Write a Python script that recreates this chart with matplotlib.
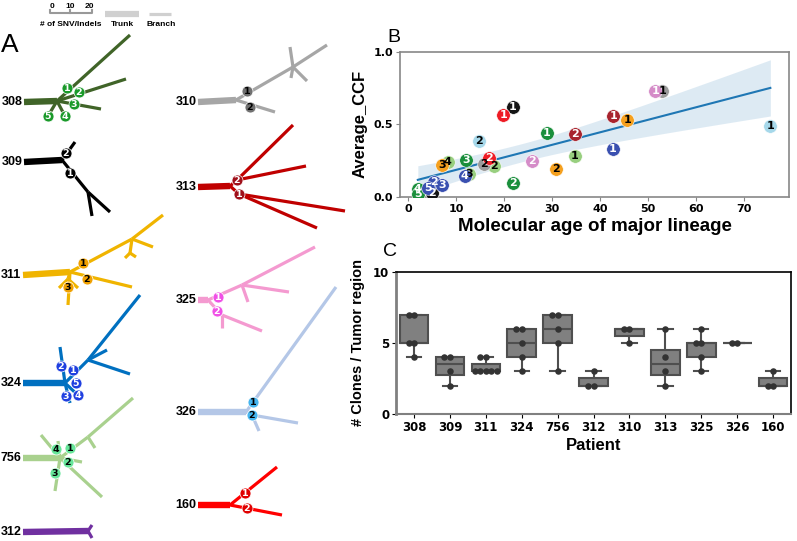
import numpy as np
import matplotlib.pyplot as plt

plt.rcParams['font.family'] = 'DejaVu Sans'
ARIAL = 'Liberation Sans'

# ---------------- panel A: clone trees (parent, dx, dy) in px from trunk start
nodes_308 = [(-1, 0, 0), (0, 33, -1), (1, 106, -67), (1, 102, -23), (1, 77, 7), (1, 41, 14), (1, 24, 14)]
clones_308 = [('1', 43, -14), ('2', 55, -10), ('3', 50, 2), ('4', 41, 14), ('5', 24, 14)]
nodes_309 = [(-1, 0, 0), (0, 38, -2), (1, 51, -20), (1, 64, 30), (3, 68, 54), (3, 86, 50)]
clones_309 = [('2', 42, -9), ('1', 46, 11)]
nodes_311 = [(-1, 0, 0), (0, 47, -3), (1, 109, -36), (2, 140, -60), (2, 130, -28), (2, 107, -22),
             (5, 102, -17), (5, 113, -18), (1, 109, 12), (1, 45, 30), (1, 45, 4), (10, 36, 13), (10, 55, 13)]
clones_311 = [('1', 60, -12), ('2', 64, 4), ('3', 45, 12)]
nodes_324 = [(-1, 0, 0), (0, 42, 0), (1, 65, -23), (2, 117, -88), (2, 84, -33), (2, 107, -9),
             (1, 37, -36), (1, 47, 20), (1, 59, 16)]
clones_324 = [('1', 50, -13), ('2', 38, -17), ('5', 53, 0), ('4', 55, 12), ('3', 43, 13)]
nodes_756 = [(-1, 0, 0), (0, 37, 0), (1, 65, -21), (2, 110, -60), (2, 72, -10), (1, 18, -23),
             (1, 35, -17), (1, 59, 4), (1, 79, 39), (1, 32, 33)]
clones_756 = [('1', 47, -10), ('4', 33, -9), ('2', 45, 4), ('3', 32, 15)]
nodes_312 = [(-1, 0, 0), (0, 65, -1), (1, 69, -7), (1, 69, 6)]
clones_312 = []
nodes_310 = [(-1, 0, 0), (0, 38, -2), (1, 95, -35), (2, 129, -57), (2, 92, -55), (2, 93, -24),
             (2, 109, -21), (1, 77, 10)]
clones_310 = [('1', 49, -11), ('2', 52, 5)]
nodes_313 = [(-1, 0, 0), (0, 32, -1), (1, 39, -7), (1, 41, 7), (2, 95, -62), (2, 108, -21),
             (3, 147, 24), (3, 119, 41)]
clones_313 = [('2', 39, -7), ('1', 41, 7)]
nodes_325 = [(-1, 0, 0), (0, 10, 0), (1, 44, -15), (2, 117, -53), (2, 91, -8), (2, 50, 2),
             (1, 24, 15), (6, 64, 31), (6, 24, 28)]
clones_325 = [('1', 20, -3), ('2', 19, 11)]
nodes_326 = [(-1, 0, 0), (0, 48, 0), (1, 138, -125), (1, 54, 3), (3, 100, 11), (3, 61, 19)]
clones_326 = [('1', 55, -10), ('2', 54, 3)]
nodes_160 = [(-1, 0, 0), (0, 32, 0), (1, 79, -38), (1, 84, 10)]
clones_160 = [('1', 47, -12), ('2', 49, 3)]

# ---------------- panel B data
b_patient = ['308'] * 5 + ['756'] * 4 + ['309'] * 2 + ['310'] * 2 + ['311'] * 3 + ['313'] * 2 + \
            ['324'] * 5 + ['325'] * 2 + ['326'] * 2 + ['160'] * 2
b_clone = ['1', '2', '3', '4', '5', '1', '2', '3', '4', '1', '2', '1', '2', '1', '2', '3', '1', '2',
           '1', '2', '3', '4', '5', '1', '2', '1', '2', '1', '2']
b_age = [28.9, 21.8, 12.0, 2.0, 2.0, 34.8, 18.0, 12.7, 8.2, 21.8, 5.0, 53.0, 15.8, 45.7, 30.8, 7.0,
         42.8, 34.8, 42.7, 5.3, 7.0, 11.8, 4.2, 51.6, 25.8, 75.6, 14.8, 19.8, 16.9]
b_ccf = [0.44, 0.097, 0.253, 0.053, 0.018, 0.28, 0.214, 0.161, 0.241, 0.62, 0.03, 0.73, 0.225,
         0.53, 0.195, 0.218, 0.56, 0.437, 0.333, 0.10, 0.085, 0.145, 0.062, 0.73, 0.248, 0.49,
         0.384, 0.563, 0.269]

# ---------------- panel C data
c_patients = ['308', '309', '311', '324', '756', '312', '310', '313', '325', '326', '160']
c_clones = [[7, 7, 5, 5, 4], [4, 4, 3, 2], [4, 4, 3, 3, 3, 3, 3], [6, 6, 5, 4, 3], [7, 7, 6, 5, 3],
            [3, 2, 2], [6, 6, 5], [6, 4, 3, 2], [6, 5, 5, 4, 3], [5, 5], [3, 2, 2]]

tree_style = {
    '308': ('#406428', '#1a9a2a', 'white'),
    '309': ('#000000', '#000000', 'white'),
    '311': ('#f0b400', '#f0a000', 'black'),
    '324': ('#0070c0', '#1f3fe0', 'white'),
    '756': ('#a9d18e', '#66e69a', 'black'),
    '312': ('#7030a0', '#7030a0', 'white'),
    '310': ('#a6a6a6', '#707070', 'black'),
    '313': ('#c00000', '#a0101a', 'white'),
    '325': ('#f49ad0', '#f050e6', 'white'),
    '326': ('#b4c7e7', '#45b5ef', 'black'),
    '160': ('#ff0000', '#e00000', 'white'),
}
scatter_style = {
    '308': ('#1a8f3c', 'white'), '756': ('#98cf7f', 'black'), '309': ('#141414', 'white'),
    '310': ('#9a9a9a', 'black'), '311': ('#f5a01e', 'black'), '313': ('#a8242e', 'white'),
    '324': ('#3a50b0', 'white'), '325': ('#d58cc8', 'white'), '326': ('#a6d8ea', 'black'),
    '160': ('#ee1c25', 'white'),
}

fig = plt.figure(figsize=(7.97, 5.41), dpi=100)

# ---------- panel A
axA = fig.add_axes([0, 0, 1, 1])
axA.set_xlim(0, 797)
axA.set_ylim(541, 0)
axA.axis('off')

trees = [('308', nodes_308, clones_308, 24, 102), ('309', nodes_309, clones_309, 24, 162),
         ('311', nodes_311, clones_311, 23, 275), ('324', nodes_324, clones_324, 23, 383),
         ('756', nodes_756, clones_756, 23, 458), ('312', nodes_312, clones_312, 23, 532),
         ('310', nodes_310, clones_310, 198, 102), ('313', nodes_313, clones_313, 198, 187),
         ('325', nodes_325, clones_325, 198, 300), ('326', nodes_326, clones_326, 198, 412),
         ('160', nodes_160, clones_160, 198, 505)]

for name, nodes, clones, ox, oy in trees:
    col, ccol, tcol = tree_style[name]
    for i, (p, dx, dy) in enumerate(nodes):
        if p < 0:
            continue
        px, py = nodes[p][1], nodes[p][2]
        lw = 4.6 if i == 1 else 2.3
        axA.plot([ox + px, ox + dx], [oy + py, oy + dy], color=col, lw=lw,
                 solid_capstyle='butt', zorder=2)
    for lab, dx, dy in clones:
        axA.scatter(ox + dx, oy + dy, s=62, color=ccol, edgecolor='white', linewidth=0.5, zorder=3)
        axA.text(ox + dx, oy + dy + 0.5, lab, color=tcol, fontsize=6.8, fontweight='bold',
                 ha='center', va='center', zorder=4)
    axA.text(ox - 1.5, oy, name, ha='right', va='center', fontsize=9, fontweight='bold',
             family=ARIAL)

# legend of panel A
axA.text(10, 45, 'A', fontsize=19, family=ARIAL, ha='center', va='center')
for v, xx in zip(['0', '10', '20'], [52, 70, 89]):
    axA.text(xx, 6, v, fontsize=6, fontweight='bold', family=ARIAL, ha='center', va='center')
axA.plot([50, 50, 92, 92], [10, 13, 13, 10], color='#999999', lw=1.5)
axA.plot([70, 70], [10, 13], color='#999999', lw=1.5)
axA.text(71, 24, '# of SNV/Indels', fontsize=6, fontweight='bold', family=ARIAL, ha='center', va='center')
axA.plot([105, 139], [14, 14], color='#d0d0d0', lw=4.5, solid_capstyle='butt')
axA.text(122, 24, 'Trunk', fontsize=6, fontweight='bold', family=ARIAL, ha='center', va='center')
axA.plot([149, 171], [14, 14], color='#d0d0d0', lw=2.3, solid_capstyle='butt')
axA.text(161, 24, 'Branch', fontsize=6, fontweight='bold', family=ARIAL, ha='center', va='center')
axA.text(394, 38, 'B', fontsize=14, family=ARIAL, ha='center', va='center')
axA.text(390, 251, 'C', fontsize=14, family=ARIAL, ha='center', va='center')

# ---------- panel B
axB = fig.add_axes([0.502, 0.636, 0.488, 0.268])
x = np.array(b_age)
y = np.array(b_ccf)
for pt, cl, xv, yv in zip(b_patient, b_clone, b_age, b_ccf):
    fc, tc = scatter_style[pt]
    axB.scatter(xv, yv, s=95, color=fc, edgecolor='white', linewidth=0.4, zorder=3)
    axB.text(xv, yv, cl, color=tc, fontsize=8, fontweight='bold', ha='center', va='center', zorder=4)

slope, icpt = np.polyfit(x, y, 1)
xs = np.linspace(x.min(), x.max(), 100)
ys = slope * xs + icpt
n = len(x)
resid = y - (slope * x + icpt)
s = np.sqrt(np.sum(resid ** 2) / (n - 2))
se = s * np.sqrt(1.0 / n + (xs - x.mean()) ** 2 / np.sum((x - x.mean()) ** 2))
axB.fill_between(xs, ys - 2.4 * se, ys + 2.4 * se, color='#1f77b4', alpha=0.15, lw=0, zorder=1)
axB.plot(xs, ys, color='#1f77b4', lw=1.5, zorder=2)

axB.set_xlim(-1.7, 79.5)
axB.set_ylim(0, 1.0)
axB.set_xticks(range(0, 80, 10))
axB.set_yticks([0, 0.5, 1.0])
axB.set_yticklabels(['0.0', '0.5', '1.0'])
axB.tick_params(labelsize=8, color='#888888', length=3, pad=2)
for lab in axB.get_xticklabels() + axB.get_yticklabels():
    lab.set_fontweight('bold')
for sp in axB.spines.values():
    sp.set_color('#888888')
    sp.set_linewidth(1.2)
axB.set_xlabel('Molecular age of major lineage', fontsize=13.5, fontweight='bold', family=ARIAL, labelpad=3)
axB.set_ylabel('Average_CCF', fontsize=12, fontweight='bold', family=ARIAL, labelpad=4)

# ---------- panel C
axC = fig.add_axes([0.497, 0.235, 0.4955, 0.262])
pos = np.arange(len(c_patients))
bp = axC.boxplot(c_clones, positions=pos, widths=0.8, patch_artist=True, whis=1.5,
                 showfliers=False, manage_ticks=False)
for b in bp['boxes']:
    b.set_facecolor('#808080')
    b.set_edgecolor('#4f4f4f')
    b.set_linewidth(1.5)
for key in ['whiskers', 'caps', 'medians']:
    for ln in bp[key]:
        ln.set_color('#4f4f4f')
        ln.set_linewidth(1.5)

spacing = 0.153
for p, vals in zip(pos, c_clones):
    counts = {}
    for v in vals:
        k = counts.get(v, 0)
        counts[v] = k + 1
        off = 0 if k == 0 else (-(k + 1) // 2 if k % 2 == 1 else k // 2)
        axC.scatter(p + off * spacing, v, s=22, color='#333333', zorder=4, linewidth=0)

axC.set_xlim(-0.5, len(c_patients) - 0.5)
axC.set_ylim(0, 10)
axC.set_yticks([0, 5, 10])
axC.set_xticks(pos)
axC.set_xticklabels(c_patients)
axC.tick_params(labelsize=8.5, length=3, pad=2)
for lab in axC.get_xticklabels() + axC.get_yticklabels():
    lab.set_fontweight('bold')
axC.spines['left'].set_color('#808080')
axC.spines['left'].set_linewidth(2)
axC.spines['bottom'].set_color('#808080')
axC.spines['bottom'].set_linewidth(1.5)
axC.spines['top'].set_linewidth(1.2)
axC.spines['right'].set_linewidth(1.2)
axC.set_xlabel('Patient', fontsize=12, fontweight='bold', family=ARIAL, labelpad=3)
axC.set_ylabel('# Clones / Tumor region', fontsize=10.5, fontweight='bold', family=ARIAL, labelpad=6)

fig.savefig('out.png', dpi=100)
